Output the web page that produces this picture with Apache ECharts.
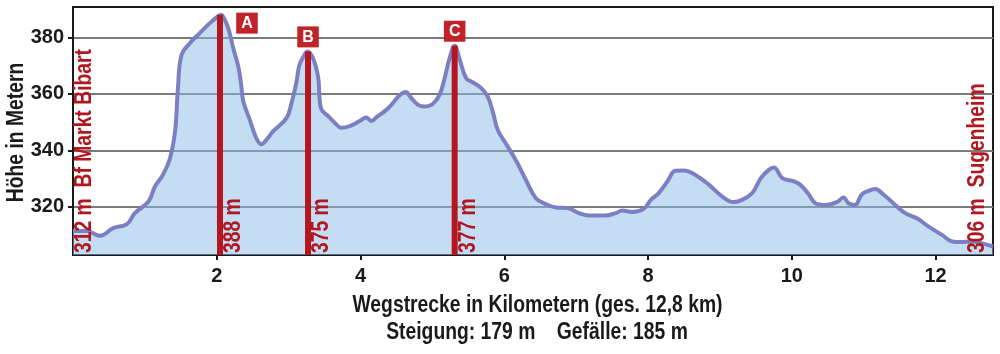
<!DOCTYPE html>
<html>
<head>
<meta charset="utf-8">
<script src="https://cdn.jsdelivr.net/npm/echarts@6/dist/echarts.min.js"></script>
<style>
  html, body { margin: 0; padding: 0; background: #fff; }
  #chart { width: 1000px; height: 354px; }
</style>
</head>
<body>
<div id="chart"></div>
<script>
// Streckenprofil (km, Höhe in m)
const distKm = [0, 0.19, 0.375, 0.56, 0.75, 0.86, 1.05, 1.14, 1.25, 1.35, 1.42, 1.46, 1.51, 1.625, 1.76, 1.9, 2.02, 2.06, 2.09,
  2.16, 2.23, 2.3, 2.34, 2.37, 2.46, 2.55, 2.62, 2.71, 2.78, 2.97, 3.04, 3.11, 3.15, 3.22, 3.26, 3.34, 3.41, 3.45,
  3.55, 3.64, 3.73, 3.85, 3.99, 4.08, 4.15, 4.24, 4.33, 4.43, 4.54, 4.63, 4.7, 4.8, 4.89, 5.0, 5.1, 5.17, 5.24, 5.31,
  5.375, 5.47, 5.56, 5.68, 5.77, 5.84, 5.91, 6.02, 6.16, 6.3, 6.44, 6.58, 6.72, 6.88, 7.04, 7.18, 7.41, 7.55, 7.64,
  7.78, 7.94, 8.04, 8.15, 8.27, 8.38, 8.5, 8.66, 8.85, 9.03, 9.19, 9.31, 9.45, 9.57, 9.68, 9.75, 9.87, 10.01, 10.12,
  10.24, 10.33, 10.47, 10.63, 10.72, 10.79, 10.88, 10.97, 11.07, 11.16, 11.28, 11.44, 11.58, 11.74, 11.9, 12.09,
  12.23, 12.37, 12.5, 12.64, 12.8];
const heightM = [311.5, 311.5, 309.8, 312.5, 313.9, 317.8, 321.9, 327.2, 331.3, 337.2, 346.6, 362, 373.7, 377.9, 381.4, 384.9, 387.5, 388, 387.3,
  383.2, 376.1, 369.6, 363.1, 357.3, 350.8, 344.3, 342.2, 344.3, 346.6, 351.4, 356.7, 364.3, 370.2, 373.7, 375, 372.6, 366.1, 354.9,
  352.1, 349.8, 348, 348.6, 350.4, 351.6, 350.4, 352.1, 353.7, 356.1, 359.4, 360.6, 358.7, 356.1, 355.5, 356.3, 359.6, 365.5, 372.6, 377,
  372.6, 365.5, 364.1, 362, 359, 353.7, 347.2, 342.5, 336.6, 329.6, 323.1, 321.0, 319.8, 319.6, 317.8, 317, 317, 317.8, 318.7,
  318.2, 319.3, 322.5, 324.9, 329, 332.8, 332.9, 331.3, 327.8, 323.7, 321.7, 322.5, 324.9, 330.2, 333.1, 333.9, 330.2, 329.2, 327.8,
  324.3, 321.3, 320.7, 321.7, 323.3, 321.3, 320.7, 324.3, 325.7, 326.3, 324.3, 320.7, 317.8, 316.0, 313.1, 310.1,
  307.8, 307.6, 307.8, 307.2, 306];

// Wegpunkte A, B, C
const poleKm = [2.045, 3.27, 5.31];
const poleHeight = [388, 375, 377];
const poleLetter = ['A', 'B', 'C'];

// Start / Ziel
const endKm = [0, 12.8];
const endHeight = [312, 306];
const endName = ['Bf Markt Bibart', 'Sugenheim'];

const yTicks = [320, 340, 360, 380];
const totalKm = '12,8';
const climb = 179;
const descent = 185;

const font = '"Liberation Sans", Arial, sans-serif';
const red = '#b3161f';
const dark = '#1a1a1a';
const narrow = 0.84; // Schrift schmal stauchen

const chart = echarts.init(document.getElementById('chart'));

let profile = distKm.map((d, i) => [d, heightM[i]]);

let poles = poleKm.map((d, i) => ({
    value: [d, poleHeight[i]],
    name: poleLetter[i],
    label: i === 0 ? { offset: [27, 23] } : {}
}));

// senkrechte Beschriftungen (Fuß der Stangen, Start, Ziel)
let vPoints = [];
let vTexts = [];
let vShift = [];
poleKm.forEach((d, i) => {
    vPoints.push([d, 303]);
    vTexts.push(poleHeight[i] + ' m');
    vShift.push(14);
});
vPoints.push([endKm[0], 303]);
vTexts.push(endHeight[0] + ' m  ' + endName[0]);
vShift.push(12);
vPoints.push([endKm[1], 303]);
vTexts.push(endHeight[1] + ' m  ' + endName[1]);
vShift.push(-15);

let option = {
    animation: false,
    grid: {
        left: 73,
        right: 7,
        top: 7,
        bottom: 99,
        containLabel: false,
        outerBoundsMode: 'none',
        show: true,
        borderColor: dark,
        borderWidth: 2,
        backgroundColor: 'transparent'
    },
    graphic: [
        {
            type: 'text',
            x: 16.5,
            y: 132.5,
            rotation: Math.PI / 2,
            scaleX: narrow,
            style: {
                text: 'Höhe in Metern',
                fill: dark,
                font: 'bold 23px ' + font,
                align: 'center',
                verticalAlign: 'middle'
            }
        },
        {
            type: 'text',
            x: 537.5,
            y: 306,
            scaleX: narrow,
            style: {
                text: 'Wegstrecke in Kilometern (ges. ' + totalKm + ' km)',
                fill: dark,
                font: 'bold 23px ' + font,
                align: 'center',
                verticalAlign: 'middle'
            }
        },
        {
            type: 'text',
            x: 537,
            y: 333,
            scaleX: narrow,
            style: {
                text: 'Steigung: ' + climb + ' m    Gefälle: ' + descent + ' m',
                fill: dark,
                font: 'bold 23px ' + font,
                align: 'center',
                verticalAlign: 'middle'
            }
        }
    ],
    xAxis: {
        type: 'value',
        min: 0,
        max: 12.8,
        interval: 2,
        axisLine: { show: true, lineStyle: { color: dark, width: 2 } },
        axisTick: { show: true, length: 5, lineStyle: { color: dark, width: 2 } },
        axisLabel: {
            showMinLabel: false,
            showMaxLabel: false,
            color: dark,
            fontFamily: font,
            fontWeight: 'bold',
            fontSize: 20,
            margin: 11
        },
        splitLine: { show: false }
    },
    yAxis: {
        type: 'value',
        min: 303,
        max: 390.7,
        axisLine: { show: true, lineStyle: { color: dark, width: 2 } },
        axisTick: { show: true, length: 5, customValues: yTicks, lineStyle: { color: dark, width: 2 } },
        axisLabel: {
            customValues: yTicks,
            color: dark,
            fontFamily: font,
            fontWeight: 'bold',
            fontSize: 20,
            margin: 9
        },
        splitLine: { show: true, lineStyle: { color: '#7a7a7a', width: 2 } }
    },
    series: [
        {
            type: 'line',
            data: profile,
            smooth: 0.4,
            symbol: 'none',
            lineStyle: { color: '#7c80c2', width: 4 },
            areaStyle: { color: 'rgb(140, 188, 232)', opacity: 0.5, origin: 'start' },
            z: 2
        },
        {
            type: 'bar',
            data: poles,
            barWidth: 6,
            itemStyle: { color: red },
            label: {
                show: true,
                position: 'top',
                distance: 4,
                formatter: '{b}',
                color: '#fff',
                backgroundColor: '#c1232b',
                fontFamily: font,
                fontWeight: 'bold',
                fontSize: 16,
                lineHeight: 16,
                padding: [3, 5, 2, 5]
            },
            z: 3
        },
        {
            type: 'custom',
            data: vPoints,
            renderItem: (params, api) => {
                let p = api.coord([api.value(0), api.value(1)]);
                let i = params.dataIndex;
                return {
                    type: 'text',
                    x: p[0] + vShift[i],
                    y: p[1] - 2,
                    rotation: Math.PI / 2,
                    scaleX: narrow,
                    style: {
                        text: vTexts[i],
                        fill: red,
                        font: 'bold 23px ' + font,
                        align: 'left',
                        verticalAlign: 'middle'
                    }
                };
            },
            z: 4
        }
    ]
};

chart.setOption(option);
</script>
</body>
</html>
